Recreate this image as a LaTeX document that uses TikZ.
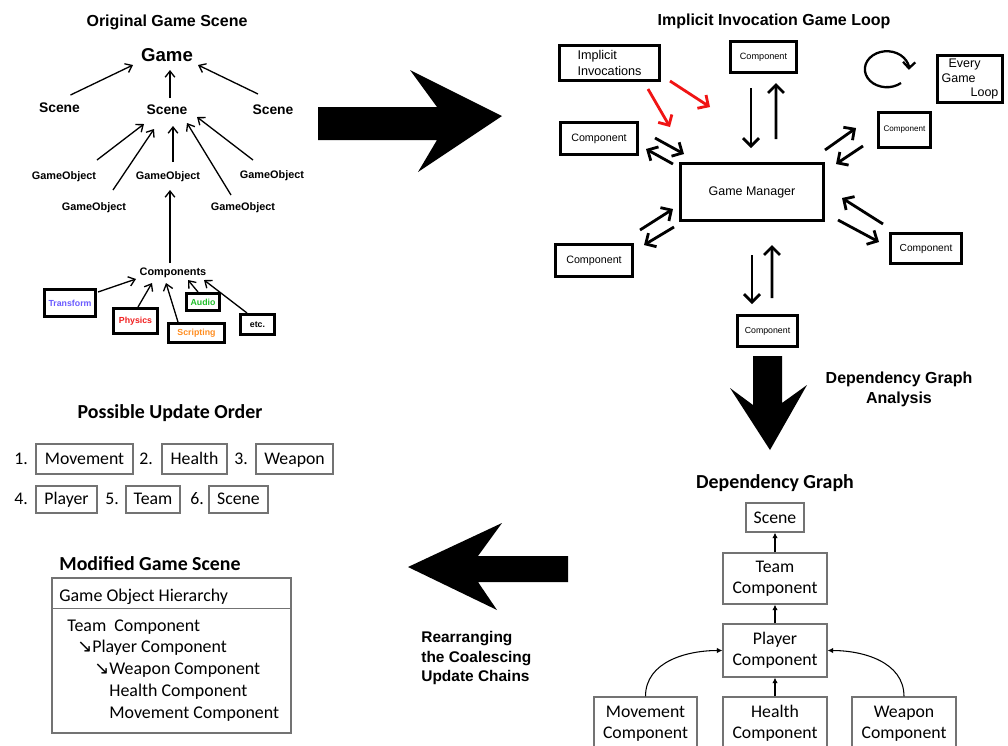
\documentclass[tikz,border=0pt]{standalone}
\usepackage{fontspec}
\setmainfont{Liberation Sans}
\newfontfamily\carlito{Carlito}
\newfontfamily\arrowfont{DejaVu Sans}
\usetikzlibrary{arrows.meta,calc}

\definecolor{cTransform}{RGB}{105,90,255}
\definecolor{cPhysics}{RGB}{240,30,30}
\definecolor{cScripting}{RGB}{255,140,30}
\definecolor{cAudio}{RGB}{30,190,40}
\definecolor{cRosso}{RGB}{240,20,20}

\tikzset{
  titolo/.style={font=\fontsize{9.1}{11.3}\selectfont\bfseries, inner sep=0pt},
  titolocal/.style={font=\carlito\fontsize{11.3}{13}\selectfont\bfseries, inner sep=0pt},
  livello/.style={font=\fontsize{7.9}{9}\selectfont\bfseries, inner sep=0pt},
  gobj/.style={font=\fontsize{6.2}{7}\selectfont\bfseries, inner sep=0pt},
  tarr/.style={-{Straight Barb[length=3.5pt,width=5.5pt]}, line width=0.75pt},
  compbox/.style={draw, line width=1.6pt, inner sep=0pt, font=\fontsize{5}{6}\selectfont\bfseries},
  gbox/.style={draw, line width=1.6pt, inner sep=0pt},
  garr/.style={-{Straight Barb[length=4.5pt,width=9pt]}, line width=1.6pt},
  ctext/.style={font=\carlito\fontsize{10.1}{12}\selectfont, inner sep=0pt, text height=8pt, text depth=1.8pt},
  cbox/.style={draw=black!55, line width=0.7pt, inner sep=0pt, align=center,
    font=\carlito\fontsize{10.1}{12}\selectfont},
  obox/.style={draw=black!55, line width=0.7pt, inner sep=0pt, text height=8pt, text depth=1.8pt,
    font=\carlito\fontsize{10.1}{12}\selectfont},
  htext/.style={anchor=base west, inner sep=0pt, font=\carlito\fontsize{10.2}{12}\selectfont},
  darr/.style={-{Latex[length=3.2pt,width=3.2pt]}, line width=0.6pt},
}

\begin{document}
\begin{tikzpicture}[x=0.02cm, y=-0.02cm]
  \useasboundingbox (0,0) rectangle (1008,745);

  % Scena di gioco originale
  \node[titolo] (titOrig) at (167,22) {Original Game Scene};
  \node[font=\fontsize{10.6}{12}\selectfont\bfseries, inner sep=0pt] (game) at (167,55) {Game};
  \node[livello] (sceneL) at (59.5,108) {Scene};
  \node[livello] (sceneC) at (167,110) {Scene};
  \node[livello] (sceneR) at (273,110) {Scene};
  \node[gobj] (go1) at (64,177) {GameObject};
  \node[gobj] (go2) at (94,208) {GameObject};
  \node[gobj] (go3) at (168,177) {GameObject};
  \node[gobj] (go4) at (243,208) {GameObject};
  \node[gobj] (go5) at (272,176) {GameObject};
  \node[gobj] (comps) at (173,273) {Components};
  \node[compbox, text=cTransform, minimum width=1.02cm, minimum height=0.54cm] (transform) at (70,303) {Transform};
  \node[compbox, text=cPhysics, minimum width=0.88cm, minimum height=0.5cm] (physics) at (135.5,321) {Physics};
  \node[compbox, text=cScripting, minimum width=1.12cm, minimum height=0.38cm] (scripting) at (196.5,333) {Scripting};
  \node[compbox, text=cAudio, minimum width=0.66cm, minimum height=0.34cm] (audio) at (203,302) {Audio};
  \node[compbox, minimum width=0.68cm, minimum height=0.4cm] (etc) at (257.5,324.5) {etc.};

  \draw[tarr] ($(sceneL)+(11,-13)$) -- ($(game)+(-34,10)$);
  \draw[tarr] ($(sceneC)+(3,-12)$) -- ($(game)+(3,15)$);
  \draw[tarr] ($(sceneR)+(-15,-16)$) -- ($(game)+(31,10)$);
  \draw[tarr] ($(go1)+(33,-17)$) -- ($(sceneC)+(-23,14)$);
  \draw[tarr] ($(go2)+(19,-18)$) -- ($(sceneC)+(-13,19)$);
  \draw[tarr] ($(go3)+(5,-15)$) -- ($(sceneC)+(6,16)$);
  \draw[tarr] ($(go4)+(-12,-13)$) -- ($(sceneC)+(20,13)$);
  \draw[tarr] ($(go5)+(-19,-16)$) -- ($(sceneC)+(30,7)$);
  \draw[tarr] ($(comps)+(-3,-10)$) -- ($(go3)+(2,13)$);
  \draw[tarr] ($(transform)+(28,-11)$) -- ($(comps)+(-37,6)$);
  \draw[tarr] ($(physics)+(2.5,-14)$) -- ($(comps)+(-21,10)$);
  \draw[tarr] ($(scripting)+(-18.5,-11)$) -- ($(comps)+(-7,10)$);
  \draw[tarr] ($(audio)+(-5,-10)$) -- ($(comps)+(15,7)$);
  \draw[tarr] ($(etc)+(-10.5,-11.5)$) -- ($(comps)+(31,7)$);

  % Frecce grandi
  \fill (318,107) -- (437,107) -- (410,70) -- (502,116) -- (418,172) -- (437,140) -- (318,140) -- cycle;
  \fill (753,356) -- (782,356) -- (782,403) -- (807,385) -- (770,450) -- (730,388) -- (753,405) -- cycle;
  \fill (568,556) -- (478,556) -- (502,523) -- (408,567) -- (497,610) -- (478,582) -- (568,582) -- cycle;
  \node[titolo, align=center] (lblDep) at (899,389) {Dependency Graph\\Analysis};
  \node[font=\fontsize{8.8}{11.3}\selectfont\bfseries, inner sep=0pt, align=left, anchor=west] (lblRe) at (421,658) {Rearranging\\the Coalescing\\Update Chains};

  % Ciclo di gioco con invocazione implicita
  \node[titolo] (titLoop) at (774,21) {Implicit Invocation Game Loop};
  \node[gbox, minimum width=2.0cm, minimum height=0.7cm, align=left, font=\fontsize{7.2}{9.1}\selectfont] (imp) at (609.5,63) {Implicit\\Invocations};
  \node[gbox, minimum width=1.32cm, minimum height=0.62cm, font=\fontsize{5.2}{6}\selectfont] (ctop) at (763.5,57) {Component};
  \node[gbox, minimum width=1.54cm, minimum height=0.64cm, font=\fontsize{6.1}{7}\selectfont] (cleft) at (599,138.5) {Component};
  \node[gbox, minimum width=1.04cm, minimum height=0.7cm, font=\fontsize{4.6}{6}\selectfont] (cright) at (904.5,130) {Component};
  \node[gbox, minimum width=1.3cm, minimum height=0.94cm, align=left, font=\fontsize{7.1}{8.3}\selectfont] (every) at (970,79) {\hspace*{0.14cm}Every\\Game\\\hspace*{0.58cm}Loop};
  \node[gbox, minimum width=2.86cm, minimum height=1.14cm, font=\fontsize{7.1}{8}\selectfont] (gm) at (752,192) {Game Manager};
  \node[gbox, minimum width=1.54cm, minimum height=0.64cm, font=\fontsize{6.1}{7}\selectfont] (cbl) at (594,260.5) {Component};
  \node[gbox, minimum width=1.42cm, minimum height=0.6cm, font=\fontsize{5.8}{7}\selectfont] (cr2) at (926,248.5) {Component};
  \node[gbox, minimum width=1.2cm, minimum height=0.62cm, font=\fontsize{5}{6}\selectfont] (cbot) at (767.5,331) {Component};
  \draw[line width=1.3pt, -{Straight Barb[length=3.5pt,width=7pt]}] (901,83) arc[start angle=-50, end angle=-362, x radius=0.44cm, y radius=0.36cm];

  \draw[garr, cRosso] ($(imp)+(38.5,26)$) -- ($(gm)+(-82,-65)$);
  \draw[garr, cRosso] ($(imp)+(60.5,18)$) -- ($(gm)+(-42,-85)$);
  \draw[garr] ($(ctop)+(-12.5,31)$) -- ($(gm)+(-1,-44)$);
  \draw[garr] ($(gm)+(24,-53)$) -- ($(ctop)+(12.5,26)$);
  \draw[garr] ($(cleft)+(56,-0.5)$) -- ($(gm)+(-68,-38)$);
  \draw[garr] ($(gm)+(-79,-28)$) -- ($(cleft)+(47,10.5)$);
  \draw[garr] ($(gm)+(73,-42)$) -- ($(cright)+(-48.5,-2)$);
  \draw[garr] ($(cright)+(-41.5,16)$) -- ($(gm)+(84,-28)$);
  \draw[garr] ($(cbl)+(46,-30.5)$) -- ($(gm)+(-79,17)$);
  \draw[garr] ($(gm)+(-78,35)$) -- ($(cbl)+(50,-15.5)$);
  \draw[garr] ($(cr2)+(-43,-24.5)$) -- ($(gm)+(90,6)$);
  \draw[garr] ($(gm)+(86,28)$) -- ($(cr2)+(-47,-6.5)$);
  \draw[garr] ($(gm)+(0,63)$) -- ($(cbot)+(-15.5,-27)$);
  \draw[garr] ($(cbot)+(4.5,-33)$) -- ($(gm)+(20,53)$);

  % Ordine di aggiornamento
  \node[titolocal] (titOrder) at (170,413) {Possible Update Order};
  \node[ctext] (n1) at (21,459) {1.};
  \node[obox, minimum width=1.94cm, minimum height=0.6cm] (oMove) at (84.5,459) {Movement};
  \node[ctext] (n2) at (146,459) {2.};
  \node[obox, minimum width=1.3cm, minimum height=0.6cm] (oHealth) at (194.5,459) {Health};
  \node[ctext] (n3) at (241,459) {3.};
  \node[obox, minimum width=1.54cm, minimum height=0.6cm] (oWeapon) at (294.5,459) {Weapon};
  \node[ctext] (n4) at (21,499.5) {4.};
  \node[obox, minimum width=1.22cm, minimum height=0.54cm] (oPlayer) at (66.5,499.5) {Player};
  \node[ctext] (n5) at (112,499.5) {5.};
  \node[obox, minimum width=1.08cm, minimum height=0.54cm] (oTeam) at (153,499.5) {Team};
  \node[ctext] (n6) at (197,499.5) {6.};
  \node[obox, minimum width=1.18cm, minimum height=0.54cm] (oScene) at (238.5,499.5) {Scene};

  % Scena modificata
  \node[titolocal] (titMod) at (150,564) {Modified Game Scene};
  \node[draw=black!55, line width=0.7pt, minimum width=4.78cm, minimum height=3.1cm, inner sep=0pt] (hier) at (171.5,655.5) {};
  \draw[black!55, line width=0.7pt] ($(hier.north west)+(0,31)$) -- ($(hier.north east)+(0,31)$);
  \node[htext] (hTitle) at (59,601) {Game Object Hierarchy};
  \node[htext] (hTeam) at (67,631) {Team~~Component};
  \node[htext] (hPlayer) at (77,652) {{\arrowfont ↘}Player Component};
  \node[htext] (hWeapon) at (94,674) {{\arrowfont ↘}Weapon Component};
  \node[htext] (hHealth) at (109,696) {Health Component};
  \node[htext] (hMove) at (109,718) {Movement Component};

  % Grafo delle dipendenze
  \node[titolocal] (titDep) at (775,483) {Dependency Graph};
  \node[cbox, minimum width=1.16cm, minimum height=0.58cm] (dScene) at (775,517.5) {Scene};
  \node[cbox, minimum width=2.08cm, minimum height=1.02cm] (dTeam) at (775,578.5) {Team\\Component};
  \node[cbox, minimum width=2.08cm, minimum height=1.06cm] (dPlayer) at (775,650.5) {Player\\Component};
  \node[cbox, minimum width=2.06cm, minimum height=1.06cm] (dMove) at (645.5,723.5) {Movement\\Component};
  \node[cbox, minimum width=2.08cm, minimum height=1.06cm] (dHealth) at (775,723.5) {Health\\Component};
  \node[cbox, minimum width=2.08cm, minimum height=1.06cm] (dWeapon) at (904,723.5) {Weapon\\Component};
  \draw[darr] (dTeam) -- (dScene);
  \draw[darr] (dPlayer) -- (dTeam);
  \draw[darr] (dHealth) -- (dPlayer);
  \draw[darr] (dMove.north) to[out=90, in=180] (dPlayer.west);
  \draw[darr] (dWeapon.north) to[out=90, in=0] (dPlayer.east);
\end{tikzpicture}
\end{document}
